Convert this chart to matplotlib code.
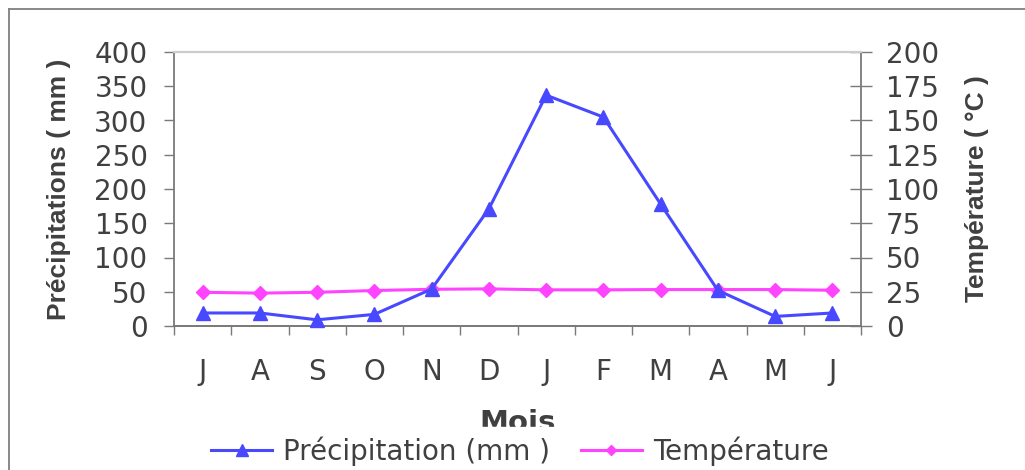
import matplotlib
matplotlib.use("Agg")
import numpy as np
from matplotlib import pyplot as plt

plt.rcParams["font.family"] = ["DejaVu Sans"]

# data
mois = ["J", "A", "S", "O", "N", "D", "J", "F", "M", "A", "M", "J"]
precipitation = [19, 19, 9, 17, 54, 171, 337, 305, 178, 52, 14, 19]
temperature = [24.6, 24.0, 24.6, 25.9, 26.8, 27.1, 26.4, 26.4, 26.6, 26.6, 26.6, 26.1]

blue = "#4848FF"
pink = "#FF44FF"
txt = "#404040"
axc = "#7a7a7a"
fs = 20

fig = plt.figure(figsize=(10.25, 4.7), dpi=100)
ax = fig.add_axes([174 / 1025, 1 - 326 / 470, (861 - 174) / 1025, (326 - 52) / 470])
ax2 = ax.twinx()

x = np.arange(len(mois))
l1, = ax.plot(x, precipitation, color=blue, lw=2.2, marker="^", markersize=10,
              label="Précipitation (mm )", zorder=3, clip_on=False)
l2, = ax2.plot(x, temperature, color=pink, lw=2.2, marker="D", markersize=7,
               label="Température", zorder=3, clip_on=False)
ax.set_zorder(ax2.get_zorder() + 1)
ax.patch.set_visible(False)

ax.set_xlim(-0.5, len(mois) - 0.5)
ax.set_ylim(0, 400)
ax2.set_ylim(0, 200)
ax.set_yticks(np.arange(0, 401, 50))
ax2.set_yticks(np.arange(0, 201, 25))

# tick marks on category boundaries, labels between them
ax.set_xticks(np.arange(-0.5, len(mois), 1.0))
ax.set_xticklabels([])
ax.set_xticks(x, minor=True)
ax.set_xticklabels(mois, minor=True)
ax.tick_params(axis="x", which="major", direction="out", length=6.5, width=1, color=axc)
ax.tick_params(axis="x", which="minor", length=0, pad=23, labelsize=fs, labelcolor=txt)
ax.tick_params(axis="y", direction="out", length=7, width=1, color=axc,
               labelsize=fs, labelcolor=txt, pad=12)
ax2.tick_params(axis="y", direction="inout", length=16, width=1, color=axc,
                labelsize=fs, labelcolor=txt, pad=10)

for a in (ax, ax2):
    for s in ("left", "right", "bottom"):
        a.spines[s].set_color(axc)
        a.spines[s].set_linewidth(1.3)
    a.spines["top"].set_color("#cccccc")
    a.spines["top"].set_linewidth(1.5)
ax.spines["right"].set_visible(False)
ax2.spines["left"].set_visible(False)

ax.set_ylabel("Précipitations ( mm )", fontsize=19, fontweight="bold", color=txt,
              family="Liberation Sans")
ax.yaxis.set_label_coords((71 - 174) / 687, 0.5)
ax2.set_ylabel("Température ( °C )", fontsize=19, fontweight="bold", color=txt,
               family="Liberation Sans")
ax2.yaxis.set_label_coords((965 - 174) / 687, 0.5)
ax.set_xlabel("Mois", fontsize=21, fontweight="bold", color=txt)
ax.xaxis.set_label_coords(0.5, (326 - 409) / 274)

# legend box is opaque and sits over the lower half of the x label, as in the original
leg = fig.legend(handles=[l1, l2], loc="center", bbox_to_anchor=(520 / 1025, 1 - 451 / 470),
                 ncol=2, frameon=True, fontsize=fs, handlelength=2.2, handletextpad=0.4,
                 columnspacing=1.1, borderpad=0.33, markerscale=0.8)
leg.get_frame().set_facecolor("white")
leg.get_frame().set_edgecolor("white")
leg.get_frame().set_alpha(1)
leg.set_zorder(10)
for t in leg.get_texts():
    t.set_color(txt)

# outer chart border (only left and top visible in the crop)
fig.add_artist(plt.Line2D([8.5 / 1025, 8.5 / 1025], [0, 1 - 8.5 / 470],
                          transform=fig.transFigure, color="#808080", lw=1.3))
fig.add_artist(plt.Line2D([8.5 / 1025, 1], [1 - 8.5 / 470, 1 - 8.5 / 470],
                          transform=fig.transFigure, color="#808080", lw=1.3))

fig.savefig("out.png", dpi=100)
